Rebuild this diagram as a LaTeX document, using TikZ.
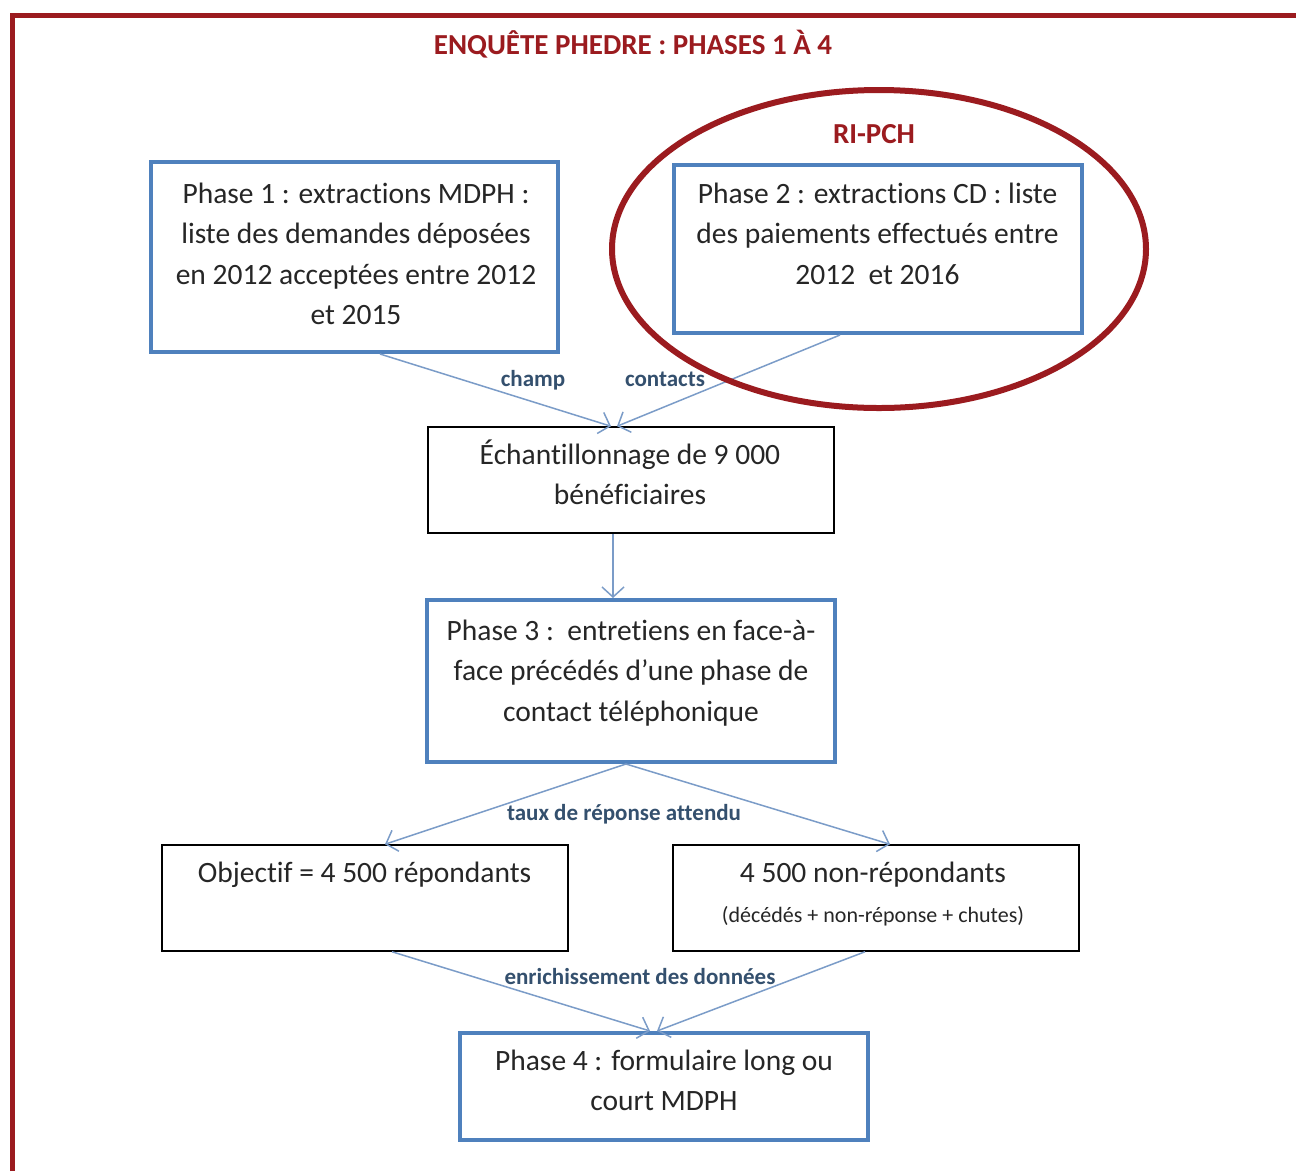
\documentclass[tikz,border=0pt]{standalone}
\usepackage{fontspec}
\setmainfont[Ligatures=NoCommon]{Carlito}
\usetikzlibrary{arrows.meta,shapes.geometric}
\definecolor{bred}{HTML}{9B1B1F}
\definecolor{boxblue}{HTML}{4F81BD}
\definecolor{arrblue}{HTML}{7B9CC8}
\definecolor{lblblue}{HTML}{34506E}
\definecolor{txtgray}{HTML}{262626}
\begin{document}
\begin{tikzpicture}[x=1pt,y=-1pt,
  bluebox/.style={draw=boxblue, line width=4pt, rectangle, inner sep=0pt},
  blackbox/.style={draw=black, line width=1.5pt, rectangle, inner sep=0pt},
  txt/.style={font=\fontsize{29.5}{40.5}\selectfont, align=center, inner sep=0pt, anchor=north, text=txtgray},
  lbl/.style={font=\fontsize{23}{28}\selectfont\bfseries, text=lblblue, inner sep=0pt, anchor=base},
  conn/.style={draw=arrblue, line width=1.5pt, -{Straight Barb[length=10pt,width=22pt]}},
  redtxt/.style={font=\fontsize{29}{34}\selectfont\bfseries, text=bred, inner sep=0pt, anchor=base}
]
\useasboundingbox (0,0) rectangle (1296,1171);
\fill[white] (0,0) rectangle (1296,1171);
% frame
\draw[bred, line width=5pt, line join=miter] (12,1171) -- (12,15) -- (1296,15);
\node[redtxt] (title) at (633,54) {ENQUÊTE PHEDRE : PHASES 1 À 4};

% boxes
\node[bluebox, minimum width=407pt, minimum height=190pt] (b1) at (354.5,257) {};
\node[bluebox, minimum width=408pt, minimum height=168pt] (b2) at (878,249) {};
\node[blackbox, minimum width=406pt, minimum height=106pt] (ech) at (631,480) {};
\node[bluebox, minimum width=408pt, minimum height=162pt] (p3) at (631,681) {};
\node[blackbox, minimum width=406pt, minimum height=106pt] (obj) at (365,898) {};
\node[blackbox, minimum width=406pt, minimum height=106pt] (non) at (876,898) {};
\node[bluebox, minimum width=408pt, minimum height=107pt] (p4) at (664,1086.5) {};

% texts (y = first baseline - 28.35)
\node[txt] (t1) at (356,174.65) {\strut Phase 1 : extractions MDPH :\\liste des demandes déposées\\en 2012 acceptées entre 2012\\et 2015};
\node[txt] (t2) at (877.5,174.65) {\strut Phase 2 : extractions CD : liste\\des paiements effectués entre\\2012\ \ et 2016};
\node[txt] (tech) at (630,435.65) {\strut Échantillonnage de 9 000\\bénéficiaires};
\node[txt] (tp3) at (631,611.65) {\strut Phase 3 :\ \ entretiens en face-à-\\face précédés d’une phase de\\contact téléphonique};
\node[txt] (tobj) at (364.5,853.65) {\strut Objectif = 4 500 répondants};
\node[txt] (tnon) at (873,853.65) {\strut 4 500 non-répondants\\{\fontsize{22}{26}\selectfont (décédés + non-réponse + chutes)}};
\node[txt] (tp4) at (664,1041.65) {\strut Phase 4 : formulaire long ou\\court MDPH};

% connectors
\draw[conn] ([xshift=25.5pt]b1.south) -- ([xshift=-20pt]ech.north);
\draw[conn] ([xshift=-38pt]b2.south) -- ([xshift=-14pt]ech.north);
\draw[conn] ([xshift=-18pt]ech.south) -- ([xshift=-18pt]p3.north);
\draw[conn] ([xshift=-5pt]p3.south) -- ([xshift=20pt]obj.north);
\draw[conn] ([xshift=-5pt]p3.south) -- ([xshift=14pt]non.north);
\draw[conn] ([xshift=27pt]obj.south) -- ([xshift=-14pt]p4.north);
\draw[conn] ([xshift=-11pt]non.south) -- ([xshift=-7pt]p4.north);

% labels
\node[lbl] (lchamp) at (533,386) {champ};
\node[lbl] (lcont) at (665,386) {contacts};
\node[lbl] (ltaux) at (624,820) {taux de réponse attendu};
\node[lbl] (lenr) at (640,984) {enrichissement des données};

% RI-PCH ellipse
\node[draw=bred, line width=6pt, ellipse, minimum width=534pt, minimum height=318pt, inner sep=0pt] (ell) at (879,249) {};
\node[redtxt] (ripch) at (874,143) {RI-PCH};
\end{tikzpicture}
\end{document}
